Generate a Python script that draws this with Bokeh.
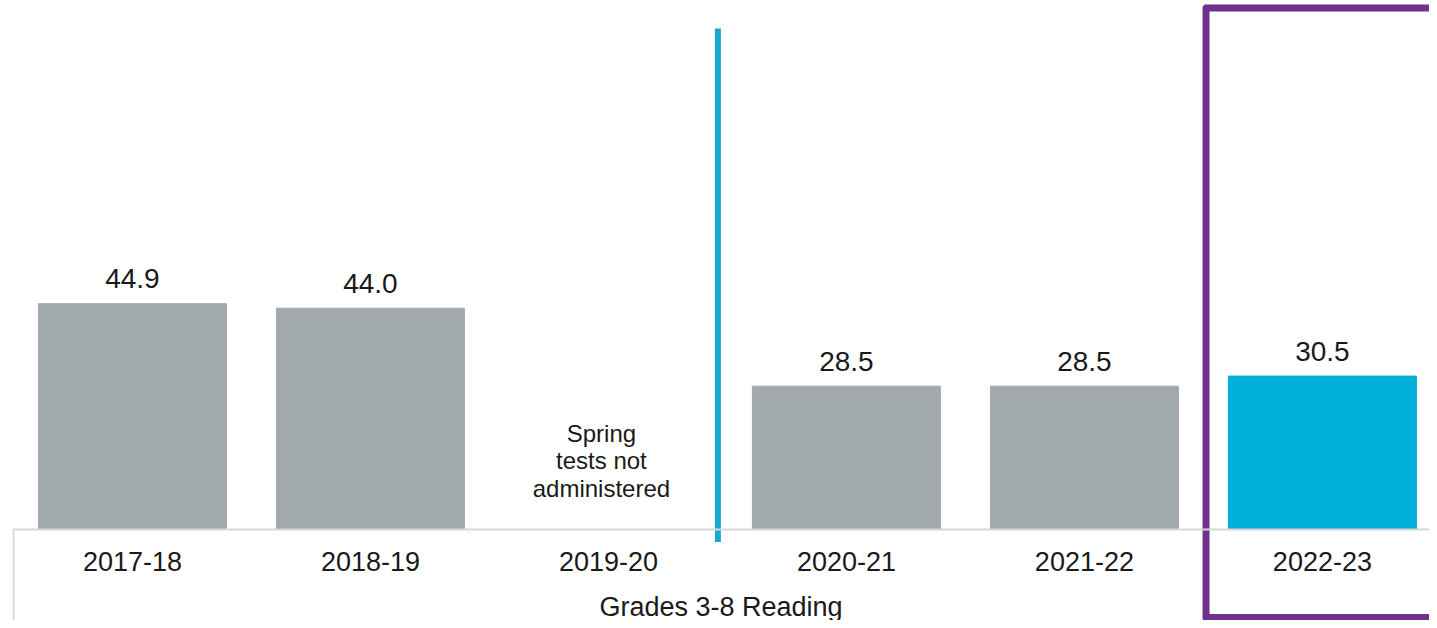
from bokeh.plotting import figure
from bokeh.models import FixedTicker, Range1d, ColumnDataSource
from bokeh.core.properties import value
from bokeh.embed import file_html
from bokeh.resources import INLINE

# ---- data ----
years = ["2017-18", "2018-19", "2019-20", "2020-21", "2021-22", "2022-23"]
scores = [44.9, 44.0, None, 28.5, 28.5, 30.5]
highlight_year = "2022-23"
missing_note = "Spring\ntests not\nadministered"
axis_title = "Grades 3-8 Reading"

GRAY = "#A2A9AD"
CYAN = "#00B0D8"
LINE_CYAN = "#1AAAD0"
PURPLE = "#70308E"
AXIS_GRAY = "#D6D6D6"
FONT = "Liberation Sans"

idx = [i for i, v in enumerate(scores) if v is not None]
src = ColumnDataSource(dict(
    x=idx,
    top=[scores[i] for i in idx],
    label=[f"{scores[i]:.1f}" for i in idx],
    color=[CYAN if years[i] == highlight_year else GRAY for i in idx],
))

p = figure(width=1429, height=620,
           x_range=Range1d(-0.504, 5.45), y_range=Range1d(-18.09, 105.17),
           output_backend="svg", toolbar_location=None,
           y_axis_location=None,
           min_border_left=12, min_border_right=0, min_border_top=0, min_border_bottom=0)
p.outline_line_color = None
p.xgrid.visible = False
p.ygrid.visible = False
p.background_fill_color = "white"

p.vbar(x="x", top="top", bottom=0, width=0.79, color="color", source=src)
p.text(x="x", y="top", text="label", source=src, text_align="center",
       text_baseline="alphabetic", y_offset=-25, text_font=value(FONT),
       text_font_size="28px", text_color="#1a1a1a")

# note for missing year
mi = [i for i, v in enumerate(scores) if v is None]
p.text(x=mi, y=[13.7] * len(mi), text=[missing_note] * len(mi), text_align="center",
       text_baseline="middle", x_offset=-7, text_font=value(FONT),
       text_font_size="24px", text_line_height=1.02, text_color="#1a1a1a")

# x axis pinned at zero
ax = p.xaxis[0]
ax.fixed_location = 0
ax.ticker = FixedTicker(ticks=list(range(len(years))))
ax.major_label_overrides = {i: y for i, y in enumerate(years)}
ax.major_tick_line_color = None
ax.minor_tick_line_color = None
ax.axis_line_color = AXIS_GRAY
ax.axis_line_width = 2
ax.major_label_text_font = FONT
ax.major_label_text_font_size = "27px"
ax.major_label_text_color = "#1a1a1a"
ax.major_label_standoff = 16
ax.axis_label = axis_title
ax.axis_label_text_font = FONT
ax.axis_label_text_font_size = "27px"
ax.axis_label_text_font_style = "normal"
ax.axis_label_text_color = "#1a1a1a"
ax.axis_label_standoff = 18

# left edge of axis box
p.segment(x0=[-0.5], y0=[0], x1=[-0.5], y1=[-20], line_color=AXIS_GRAY, line_width=2)

# cyan divider
p.segment(x0=[2.46], y0=[-2.5], x1=[2.46], y1=[99.6], line_color=LINE_CYAN, line_width=6)

# purple highlight box
p.line(x=[5.7, 4.511, 4.511, 5.7], y=[103.7, 103.7, -17.5, -17.5],
       line_color=PURPLE, line_width=7, line_join="round")

open("out.html", "w").write(file_html(p, INLINE))
